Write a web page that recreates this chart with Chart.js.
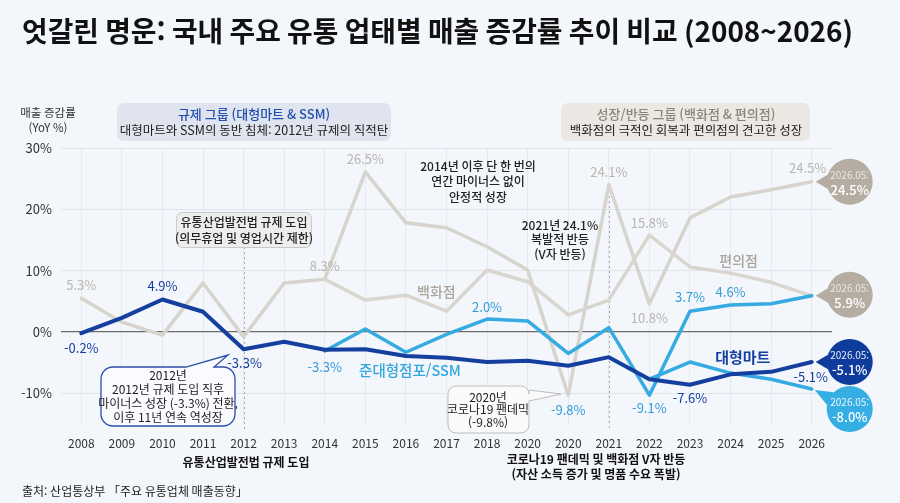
<!DOCTYPE html>
<html lang="ko">
<head>
<meta charset="utf-8">
<script src="https://cdn.jsdelivr.net/npm/chart.js@4.4.1/dist/chart.umd.min.js"></script>
<style>
  html, body { margin: 0; padding: 0; background: #f3f6fa; }
  #wrap { width: 900px; height: 503px; position: relative; }
</style>
</head>
<body>
<div id="wrap"><canvas id="salesChart"></canvas></div>
<script>
// 연도 라벨 (원본 차트 그대로, 2020이 두 번 나옴)
const years = ["2008", "2009", "2010", "2011", "2012", "2013", "2014", "2015", "2016", "2017",
  "2018", "2020", "2020", "2021", "2022", "2023", "2024", "2025", "2026"];

// 업태별 매출 증감률 (YoY %), 그림에서 읽은 값
const hypermarket = [-0.2, 2.3, 5.3, 3.3, -2.8, -1.6, -2.9, -2.8, -3.9, -4.2,
  -4.9, -4.7, -5.5, -4.1, -7.7, -8.6, -6.9, -6.5, -4.9];
const ssm = [null, null, null, null, null, null, -3.1, 0.5, -3.3, -0.4,
  2.1, 1.8, -3.5, 0.7, -10.3, 3.4, 4.4, 4.6, 5.9];
const ssmLow = [null, null, null, null, null, null, null, null, null, null,
  null, null, null, null, -7.7, -4.9, -6.7, -7.7, -9.3];
const deptStore = [5.5, 1.6, -0.5, 8.0, -0.8, 8.0, 8.6, 26.1, 17.8, 17.0,
  13.9, 10.1, -10.3, 24.0, 4.6, 18.6, 22.0, 23.2, 24.5];
const convStore = [null, null, null, null, null, null, 8.6, 5.2, 6.0, 3.4,
  10.1, 8.2, 2.8, 5.2, 15.8, 10.6, 9.6, 8.1, 5.9];

const yTicks = [-10, 0, 10, 20, 30];

// 2026.05 말풍선 값
const lastLabels = { dept: "24.5%", conv: "5.9%", hyper: "-5.1%", ssmLow: "-8.0%" };

const NAVY = "#143f9f";
const SKY = "#36abe2";
const GRAY = "#d7d3cd";
const TAN = "#b5ada2";
const FONT = "'Noto Sans CJK KR', 'Noto Sans', sans-serif";

const series = { hyper: hypermarket, ssm: ssm, ssmLow: ssmLow, dept: deptStore, conv: convStore };

// 포인트 값 라벨: [시리즈, 인덱스, 글자, dx, dy, 색]
const valueLabels = [
  ["dept", 0, "5.3%", 0, -13, "#bab5ae"],
  ["dept", 6, "8.3%", 0, -13, "#bab5ae"],
  ["dept", 7, "26.5%", 0, -13, "#bab5ae"],
  ["dept", 12, "-9.8%", 0, 15, "#2f9edb"],
  ["dept", 13, "24.1%", 0, -13, "#bab5ae"],
  ["dept", 14, "10.8%", 0, 14, "#bab5ae"],
  ["dept", 18, "24.5%", -4, -14, "#bab5ae"],
  ["conv", 14, "15.8%", 0, -12, "#bab5ae"],
  ["hyper", 0, "-0.2%", 0, 15, NAVY],
  ["hyper", 2, "4.9%", 0, -13, NAVY],
  ["hyper", 4, "-3.3%", 1, 14, NAVY],
  ["hyper", 15, "-7.6%", 0, 13, NAVY],
  ["hyper", 18, "-5.1%", -1, 15, NAVY],
  ["ssm", 6, "-3.3%", 0, 16, "#2f9edb"],
  ["ssm", 10, "2.0%", 0, -12, "#2f9edb"],
  ["ssm", 14, "-9.1%", 0, 13, "#2f9edb"],
  ["ssm", 15, "3.7%", 0, -14, "#2f9edb"],
  ["ssm", 16, "4.6%", 0, -13, "#2f9edb"]
];

function txt(ctx, s, x, y, size, color, weight, align) {
  ctx.font = (weight || "normal") + " " + size + "px " + FONT;
  ctx.fillStyle = color;
  ctx.textAlign = align || "center";
  ctx.textBaseline = "middle";
  ctx.fillText(s, x, y);
}

function lines(ctx, arr, x, y, gap, size, color, weight) {
  arr.forEach((s, i) => txt(ctx, s, x, y + i * gap, size, color, weight));
}

// 꼬리 달린 둥근 상자
function callout(ctx, x, y, w, h, r, side, b1, b2, tip) {
  ctx.beginPath();
  ctx.moveTo(x + r, y);
  if (side === "top") {
    ctx.lineTo(b1, y);
    ctx.lineTo(tip[0], tip[1]);
    ctx.lineTo(b2, y);
  }
  ctx.lineTo(x + w - r, y);
  ctx.arcTo(x + w, y, x + w, y + r, r);
  if (side === "right") {
    ctx.lineTo(x + w, b1);
    ctx.lineTo(tip[0], tip[1]);
    ctx.lineTo(x + w, b2);
  }
  ctx.lineTo(x + w, y + h - r);
  ctx.arcTo(x + w, y + h, x + w - r, y + h, r);
  ctx.lineTo(x + r, y + h);
  ctx.arcTo(x, y + h, x, y + h - r, r);
  ctx.lineTo(x, y + r);
  ctx.arcTo(x, y, x + r, y, r);
  ctx.closePath();
}

function bubble(ctx, cx, cy, r, tx, ty, fill, top, val, topColor) {
  const ang = Math.atan2(ty - cy, tx - cx);
  ctx.fillStyle = fill;
  ctx.beginPath();
  ctx.arc(cx, cy, r, 0, Math.PI * 2);
  ctx.fill();
  ctx.beginPath();
  ctx.moveTo(cx + r * Math.cos(ang - 0.32), cy + r * Math.sin(ang - 0.32));
  ctx.lineTo(tx, ty);
  ctx.lineTo(cx + r * Math.cos(ang + 0.32), cy + r * Math.sin(ang + 0.32));
  ctx.closePath();
  ctx.fill();
  txt(ctx, top, cx, cy - 7, 10, topColor, "normal");
  txt(ctx, val, cx, cy + 8, 13, "#ffffff", "500");
}

const decor = {
  id: "decor",
  beforeDraw(chart) {
    const ctx = chart.ctx;
    ctx.save();
    ctx.fillStyle = "#f3f6fa";
    ctx.fillRect(0, 0, chart.width, chart.height);
    ctx.restore();
  },
  beforeDatasetsDraw(chart) {
    const ctx = chart.ctx;
    const xs = chart.scales.x;
    ctx.save();
    ctx.strokeStyle = "#a9a9a9";
    ctx.lineWidth = 1;
    ctx.setLineDash([2, 3]);
    const x12 = Math.round(xs.getPixelForValue(4)) + 0.5;
    const x21 = Math.round(xs.getPixelForValue(13)) + 0.5;
    ctx.beginPath();
    ctx.moveTo(x12, 247); ctx.lineTo(x12, 430);
    ctx.moveTo(x21, 196); ctx.lineTo(x21, 430);
    ctx.stroke();
    ctx.restore();
  },
  afterDatasetsDraw(chart) {
    const ctx = chart.ctx;
    const xs = chart.scales.x, ys = chart.scales.y;
    const px = i => xs.getPixelForValue(i);
    const py = v => ys.getPixelForValue(v);
    ctx.save();

    // 제목 (폭 831px에 맞춤)
    ctx.font = "bold 28px " + FONT;
    const title = "엇갈린 명운: 국내 주요 유통 업태별 매출 증감률 추이 비교 (2008~2026)";
    const tw = ctx.measureText(title).width;
    ctx.save();
    ctx.translate(22, 31);
    ctx.scale(831 / tw, 1);
    txt(ctx, title, 0, 0, 28, "#111111", "bold", "left");
    ctx.restore();

    // y축 제목
    txt(ctx, "매출 증감률", 48, 113, 11.5, "#333333");
    txt(ctx, "(YoY %)", 48, 128, 11.5, "#333333");

    // 상단 그룹 상자
    ctx.fillStyle = "#e0e4ef";
    ctx.beginPath(); ctx.roundRect(117, 103, 274, 38, 7); ctx.fill();
    txt(ctx, "규제 그룹 (대형마트 & SSM)", 254, 114, 13, "#2350b0", "500");
    txt(ctx, "대형마트와 SSM의 동반 침체: 2012년 규제의 직적탄", 254, 130, 12.5, "#222222");
    ctx.fillStyle = "#ebe8e3";
    ctx.beginPath(); ctx.roundRect(561, 103, 249, 38, 7); ctx.fill();
    txt(ctx, "성장/반등 그룹 (백화점 & 편의점)", 686, 114, 13, "#8c8377", "500");
    txt(ctx, "백화점의 극적인 회복과 편의점의 견고한 성장", 686, 130, 12.5, "#222222");

    // 규제 도입 상자
    ctx.fillStyle = "#ededed";
    ctx.strokeStyle = "#c9c9c9";
    ctx.lineWidth = 1;
    ctx.beginPath(); ctx.roundRect(176.5, 212.5, 135, 35, 6); ctx.fill(); ctx.stroke();
    lines(ctx, ["유통산업발전법 규제 도입", "(의무휴업 및 영업시간 제한)"], 244, 222, 16, 12, "#222222", "500");

    // 설명 문구
    lines(ctx, ["2014년 이후 단 한 번의", "연간 마이너스 없이", "안정적 성장"], 478, 166, 15.5, 12, "#222222", "500");
    lines(ctx, ["2021년 24.1%", "복발적 반등", "(V자 반등)"], 560, 225, 14.5, 12, "#222222", "500");

    // 2012 말풍선
    ctx.fillStyle = "#f9fbfe";
    ctx.strokeStyle = "#2c4ea6";
    ctx.lineWidth = 1.3;
    callout(ctx, 101, 367, 134, 59, 12, "top", 186, 214, [228, 355]);
    ctx.fill(); ctx.stroke();
    lines(ctx, ["2012년", "2012년 규제 도입 직후", "마이너스 성장 (-3.3%) 전환,", "이후 11년 연속 역성장"], 168, 375, 14, 12, "#222222");

    // 2020 말풍선
    ctx.fillStyle = "#fafafa";
    ctx.strokeStyle = "#bdbdbd";
    ctx.lineWidth = 1;
    callout(ctx, 448, 386, 81, 47, 8, "right", 390, 401, [561, 394]);
    ctx.fill(); ctx.stroke();
    lines(ctx, ["2020년", "코로나19 팬데믹", "(-9.8%)"], 488, 397, 12.5, 12, "#222222");

    // 하단 주석
    txt(ctx, "유통산업발전법 규제 도입", 246, 462, 12, "#111111", "bold");
    txt(ctx, "코로나19 팬데믹 및 백화점 V자 반등", 596, 459, 12, "#111111", "bold");
    txt(ctx, "(자산 소득 증가 및 명품 수요 폭발)", 596, 474, 12, "#111111", "bold");
    txt(ctx, "출처: 산업통상부 「주요 유통업체 매출동향」", 22, 491, 12, "#222222", "normal", "left");

    // 시리즈 이름
    txt(ctx, "백화점", px(8.75), py(6.5), 14, "#aaa49c", "500");
    txt(ctx, "편의점", px(16.2), py(11.6), 14, "#aaa49c", "500");
    txt(ctx, "준대형점포/SSM", px(8.1), py(-6.2), 14.5, "#33a6df", "500");
    txt(ctx, "대형마트", px(16.3), py(-4.1), 15, NAVY, "bold");

    // 값 라벨
    valueLabels.forEach(([k, i, s, dx, dy, c]) => {
      txt(ctx, s, px(i) + dx, py(series[k][i]) + dy, 13, c, "normal");
    });

    // 2026.05 말풍선
    const last = years.length - 1;
    const bx = px(last) + 38;
    bubble(ctx, bx, py(deptStore[last]), 23, px(last) + 4, py(deptStore[last]), TAN, "2026.05:", lastLabels.dept, "#ebe7e1");
    bubble(ctx, bx, py(convStore[last]) - 1, 23, px(last) + 4, py(convStore[last]), TAN, "2026.05:", lastLabels.conv, "#ebe7e1");
    bubble(ctx, bx, py(hypermarket[last]), 23, px(last) + 4, py(hypermarket[last]), "#0f3b9c", "2026.05:", lastLabels.hyper, "#e4ebf8");
    bubble(ctx, bx, py(ssmLow[last]) + 20, 23, px(last) + 3, py(ssmLow[last]) + 1, "#35aee4", "2026.05:", lastLabels.ssmLow, "#e8f6fd");

    ctx.restore();
  }
};

Chart.defaults.font.family = FONT;

const chart = new Chart(document.getElementById("salesChart"), {
  type: "line",
  data: {
    labels: years,
    datasets: [
      { label: "대형마트", data: hypermarket, borderColor: NAVY, borderWidth: 4 },
      { label: "준대형점포/SSM", data: ssm, borderColor: SKY, borderWidth: 3.5 },
      { label: "준대형점포/SSM (하락)", data: ssmLow, borderColor: SKY, borderWidth: 3.5 },
      { label: "편의점", data: convStore, borderColor: "#d9d5cf", borderWidth: 3.5 },
      { label: "백화점", data: deptStore, borderColor: GRAY, borderWidth: 3.5 }
    ]
  },
  options: {
    responsive: true,
    maintainAspectRatio: false,
    animation: false,
    layout: { padding: { left: 0, right: 68, top: 148, bottom: 49 } },
    elements: {
      point: { radius: 0, hoverRadius: 0 },
      line: { tension: 0, borderJoinStyle: "round", borderCapStyle: "round", fill: false }
    },
    plugins: {
      legend: { display: false },
      tooltip: { enabled: false }
    },
    scales: {
      x: {
        offset: true,
        border: { display: false },
        grid: { offset: false, color: "#e6eaf0", drawTicks: false },
        ticks: { color: "#333333", font: { size: 12 }, padding: 12, maxRotation: 0, autoSkip: false },
        afterFit(scale) { scale.height = 30; }
      },
      y: {
        min: -15,
        max: 30,
        border: { display: false },
        afterBuildTicks(scale) { scale.ticks = yTicks.map(v => ({ value: v })); },
        grid: {
          drawTicks: false,
          color: c => (c.tick && c.tick.value === 0) ? "#6b6b6b" : "#dfe3ea",
          lineWidth: c => (c.tick && c.tick.value === 0) ? 1.2 : 1
        },
        ticks: { color: "#333333", font: { size: 13 }, padding: 9, callback: v => v + "%" },
        afterFit(scale) { scale.width = 61; }
      }
    }
  },
  plugins: [decor]
});
</script>
</body>
</html>
